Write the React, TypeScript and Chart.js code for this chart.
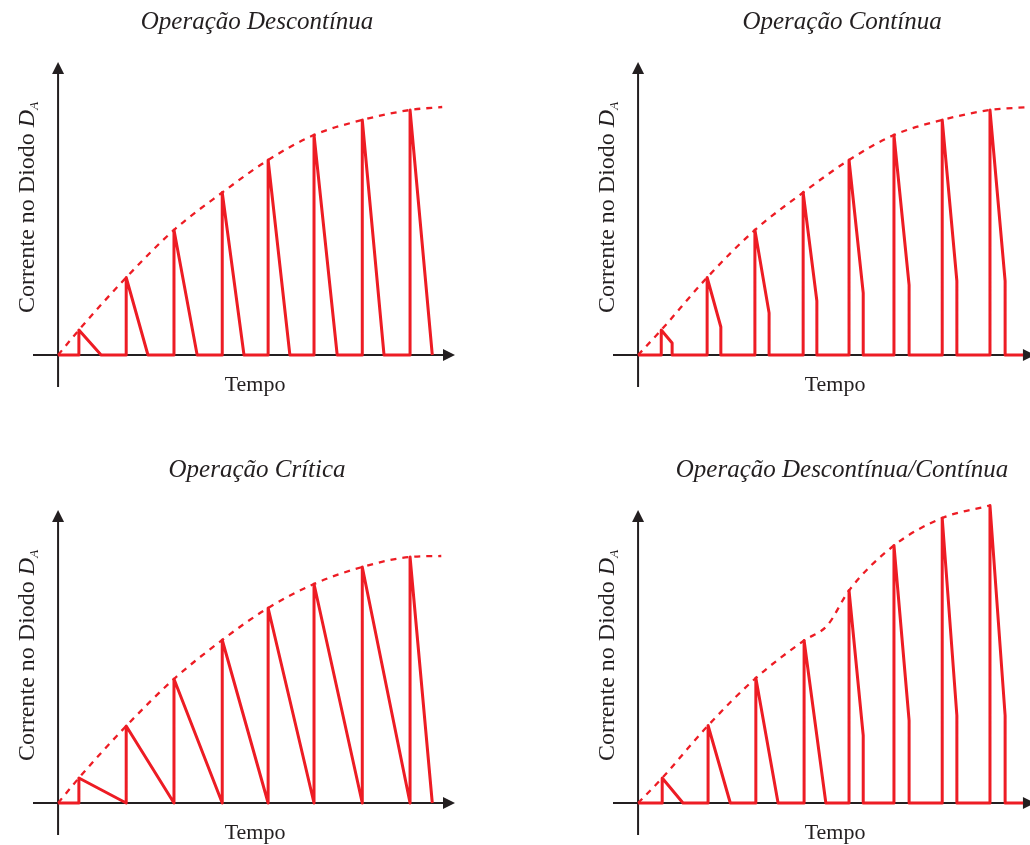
import React, { useEffect, useRef } from "react";
import { Chart, registerables } from "chart.js";

Chart.register(...registerables);

// Time in switching periods (T), current in % of the final envelope value.
// --- Operação Descontínua ---
const DESC_PEAK_T = [0.44, 1.44, 2.45, 3.47, 4.44, 5.41, 6.43, 7.44];
const DESC_PEAK_I = [10, 31, 50, 65, 78, 88, 94, 98];
const DESC_FALL_T = [0.91, 1.9, 2.94, 3.93, 4.9, 5.9, 6.89, 7.91];
const DESC_FALL_I = [0, 0, 0, 0, 0, 0, 0, 0];
const DESC_ENV_T = [0, 0.44, 1.44, 2.45, 3.47, 4.44, 5.41, 6.43, 7.44, 8.12];
const DESC_ENV_I = [0, 10, 31, 50, 65, 78, 88, 94, 98, 99.2];

// --- Operação Contínua ---
const CONT_PEAK_T = [0.49, 1.46, 2.47, 3.49, 4.46, 5.41, 6.43, 7.44];
const CONT_PEAK_I = [10, 31, 50, 65, 78, 88, 94, 98];
const CONT_FALL_T = [0.72, 1.75, 2.77, 3.78, 4.76, 5.73, 6.74, 7.76];
const CONT_FALL_I = [4.8, 11.2, 16.8, 21.6, 24.8, 28, 29.6, 29.6];
const CONT_END_T = 8.14;
const CONT_ENV_T = [0, 0.49, 1.46, 2.47, 3.49, 4.46, 5.41, 6.43, 7.44, 8.29];
const CONT_ENV_I = [0, 10, 31, 50, 65, 78, 88, 94, 98, 99.2];

// --- Operação Crítica ---
const CRIT_PEAK_T = [0.44, 1.44, 2.45, 3.47, 4.44, 5.41, 6.43, 7.44];
const CRIT_PEAK_I = [10, 30.8, 49.6, 65.2, 78, 87.6, 94.4, 98.4];
const CRIT_FALL_T = [1.44, 2.45, 3.47, 4.44, 5.41, 6.43, 7.44, 7.91];
const CRIT_FALL_I = [0, 0, 0, 0, 0, 0, 0, 0];
const CRIT_ENV_T = [0, 0.44, 1.44, 2.45, 3.47, 4.44, 5.41, 6.43, 7.44, 8.1];
const CRIT_ENV_I = [0, 10, 30.8, 49.6, 65.2, 78, 87.6, 94.4, 98.4, 98.8];

// --- Operação Descontínua/Contínua ---
const MIX_PEAK_T = [0.51, 1.48, 2.49, 3.51, 4.46, 5.41, 6.43, 7.44];
const MIX_PEAK_I = [10, 31, 50, 65, 85, 103, 114, 119];
const MIX_FALL_T = [0.95, 1.95, 2.96, 3.97, 4.76, 5.73, 6.74, 7.76];
const MIX_FALL_I = [0, 0, 0, 0, 27, 33, 35, 35];
const MIX_END_T = 8.14;
const MIX_ENV_T = [0, 0.51, 1.48, 2.49, 3.51, 4.0, 4.46, 5.41, 6.43, 7.44];
const MIX_ENV_I = [0, 10, 31, 50, 65, 71, 85, 103, 114, 119];

const TITLES = [
  "Operação Descontínua",
  "Operação Contínua",
  "Operação Crítica",
  "Operação Descontínua/Contínua",
];
const Y_LABEL = "Corrente no Diodo ";
const Y_LABEL_SYMBOL = "D";
const Y_LABEL_SUB = "A";
const X_LABEL = "Tempo";

const X_MIN = -0.53;
const X_ARROW = 8.39;
const Y_MIN = -12.8;
const Y_MAX = 117.2;

const RED = "#ed1c24";
const INK = "#231f20";

type Pt = { x: number; y: number };

function waveform(pt: number[], pi: number[], ft: number[], fi: number[], endT?: number): Pt[] {
  const pts: Pt[] = [{ x: 0, y: 0 }];
  for (let k = 0; k < pt.length; k++) {
    pts.push({ x: pt[k], y: 0 });
    pts.push({ x: pt[k], y: pi[k] });
    pts.push({ x: ft[k], y: fi[k] });
    if (fi[k] !== 0) pts.push({ x: ft[k], y: 0 });
  }
  if (endT !== undefined) pts.push({ x: endT, y: 0 });
  return pts;
}

function envelope(t: number[], i: number[]): Pt[] {
  return t.map((x, k) => ({ x, y: i[k] }));
}

type PanelCfg = {
  left: number;
  top: number;
  w: number;
  h: number;
  pad: { left: number; right: number; top: number; bottom: number };
  xMax: number;
  title: string;
  titleDx: number;
  wave: Pt[];
  env: Pt[];
};

function makeDeco(cfg: PanelCfg) {
  return {
    id: "deco",
    beforeDatasetsDraw(chart: any) {
      const ctx = chart.ctx as CanvasRenderingContext2D;
      const xs = chart.scales.x;
      const ys = chart.scales.y;
      const x0 = xs.getPixelForValue(0);
      const y0 = ys.getPixelForValue(0);
      const yTop = ys.getPixelForValue(Y_MAX);
      const yBot = ys.getPixelForValue(Y_MIN);
      const xLeft = xs.getPixelForValue(X_MIN);
      const xTip = xs.getPixelForValue(X_ARROW);
      const aL = 12;
      const aW = 6;
      ctx.save();
      ctx.strokeStyle = INK;
      ctx.fillStyle = INK;
      ctx.lineWidth = 2;
      ctx.beginPath();
      ctx.moveTo(x0, yBot);
      ctx.lineTo(x0, yTop + aL - 1);
      ctx.moveTo(xLeft, y0);
      ctx.lineTo(xTip - aL + 1, y0);
      ctx.stroke();
      ctx.beginPath();
      ctx.moveTo(x0, yTop);
      ctx.lineTo(x0 - aW, yTop + aL);
      ctx.lineTo(x0 + aW, yTop + aL);
      ctx.closePath();
      ctx.fill();
      ctx.beginPath();
      ctx.moveTo(xTip, y0);
      ctx.lineTo(xTip - aL, y0 - aW);
      ctx.lineTo(xTip - aL, y0 + aW);
      ctx.closePath();
      ctx.fill();

      // Title
      ctx.textBaseline = "alphabetic";
      ctx.textAlign = "center";
      ctx.font = 'italic 25px "Liberation Serif", "DejaVu Serif", serif';
      ctx.fillText(cfg.title, x0 + cfg.titleDx, yTop - 33);

      // X label
      ctx.font = '22px "Liberation Serif", "DejaVu Serif", serif';
      ctx.fillText(X_LABEL, x0 + 197, y0 + 36);

      // Y label (rotated) with subscript
      const midY = (yTop + y0) / 2 - 1;
      ctx.save();
      ctx.translate(x0 - 24, midY);
      ctx.rotate(-Math.PI / 2);
      ctx.textAlign = "left";
      const fMain = '24px "Liberation Serif", "DejaVu Serif", serif';
      const fIt = 'italic 24px "Liberation Serif", "DejaVu Serif", serif';
      const fSub = 'italic 13px "Liberation Serif", "DejaVu Serif", serif';
      ctx.font = fMain;
      const w1 = ctx.measureText(Y_LABEL).width;
      ctx.font = fIt;
      const w2 = ctx.measureText(Y_LABEL_SYMBOL).width;
      ctx.font = fSub;
      const w3 = ctx.measureText(Y_LABEL_SUB).width;
      let sx = -(w1 + w2 + w3) / 2;
      ctx.font = fMain;
      ctx.fillText(Y_LABEL, sx, 0);
      sx += w1;
      ctx.font = fIt;
      ctx.fillText(Y_LABEL_SYMBOL, sx, 0);
      sx += w2;
      ctx.font = fSub;
      ctx.fillText(Y_LABEL_SUB, sx, 4);
      ctx.restore();

      ctx.restore();
    },
  };
}

function Panel({ cfg }: { cfg: PanelCfg }) {
  const ref = useRef<HTMLCanvasElement | null>(null);
  useEffect(() => {
    if (!ref.current) return;
    const chart = new Chart(ref.current, {
      type: "scatter",
      data: {
        datasets: [
          {
            data: cfg.env,
            showLine: true,
            borderColor: RED,
            borderWidth: 2.3,
            borderDash: [6, 6],
            pointRadius: 0,
            cubicInterpolationMode: "monotone",
            clip: false,
            fill: false,
          } as any,
          {
            data: cfg.wave,
            showLine: true,
            borderColor: RED,
            borderWidth: 3,
            pointRadius: 0,
            tension: 0,
            borderJoinStyle: "round",
            borderCapStyle: "butt",
            clip: false,
            fill: false,
          } as any,
        ],
      },
      options: {
        responsive: false,
        animation: false,
        devicePixelRatio: 1,
        events: [],
        layout: { padding: cfg.pad },
        scales: {
          x: { type: "linear", display: false, min: X_MIN, max: cfg.xMax },
          y: { type: "linear", display: false, min: Y_MIN, max: Y_MAX },
        },
        plugins: {
          legend: { display: false },
          tooltip: { enabled: false },
          title: { display: false },
        },
      },
      plugins: [makeDeco(cfg)],
    });
    return () => chart.destroy();
  }, [cfg]);
  return (
    <canvas
      ref={ref}
      width={cfg.w}
      height={cfg.h}
      style={{ position: "absolute", left: cfg.left, top: cfg.top, width: cfg.w, height: cfg.h }}
    />
  );
}

const PANELS: PanelCfg[] = [
  {
    left: 0, top: 0, w: 515, h: 422,
    pad: { left: 33, right: 60, top: 62, bottom: 35 },
    xMax: 8.39, title: TITLES[0], titleDx: 199,
    wave: waveform(DESC_PEAK_T, DESC_PEAK_I, DESC_FALL_T, DESC_FALL_I),
    env: envelope(DESC_ENV_T, DESC_ENV_I),
  },
  {
    left: 515, top: 0, w: 515, h: 422,
    pad: { left: 98, right: 0, top: 62, bottom: 35 },
    xMax: 8.286, title: TITLES[1], titleDx: 204,
    wave: waveform(CONT_PEAK_T, CONT_PEAK_I, CONT_FALL_T, CONT_FALL_I, CONT_END_T),
    env: envelope(CONT_ENV_T, CONT_ENV_I),
  },
  {
    left: 0, top: 422, w: 515, h: 423,
    pad: { left: 33, right: 60, top: 88, bottom: 10 },
    xMax: 8.39, title: TITLES[2], titleDx: 199,
    wave: waveform(CRIT_PEAK_T, CRIT_PEAK_I, CRIT_FALL_T, CRIT_FALL_I),
    env: envelope(CRIT_ENV_T, CRIT_ENV_I),
  },
  {
    left: 515, top: 422, w: 515, h: 423,
    pad: { left: 98, right: 0, top: 88, bottom: 10 },
    xMax: 8.286, title: TITLES[3], titleDx: 204,
    wave: waveform(MIX_PEAK_T, MIX_PEAK_I, MIX_FALL_T, MIX_FALL_I, MIX_END_T),
    env: envelope(MIX_ENV_T, MIX_ENV_I),
  },
];

export default function App() {
  return (
    <div
      style={{
        position: "absolute",
        left: 0,
        top: 0,
        width: 1030,
        height: 845,
        background: "#ffffff",
        overflow: "hidden",
      }}
    >
      {PANELS.map((p, i) => (
        <Panel key={i} cfg={p} />
      ))}
    </div>
  );
}
